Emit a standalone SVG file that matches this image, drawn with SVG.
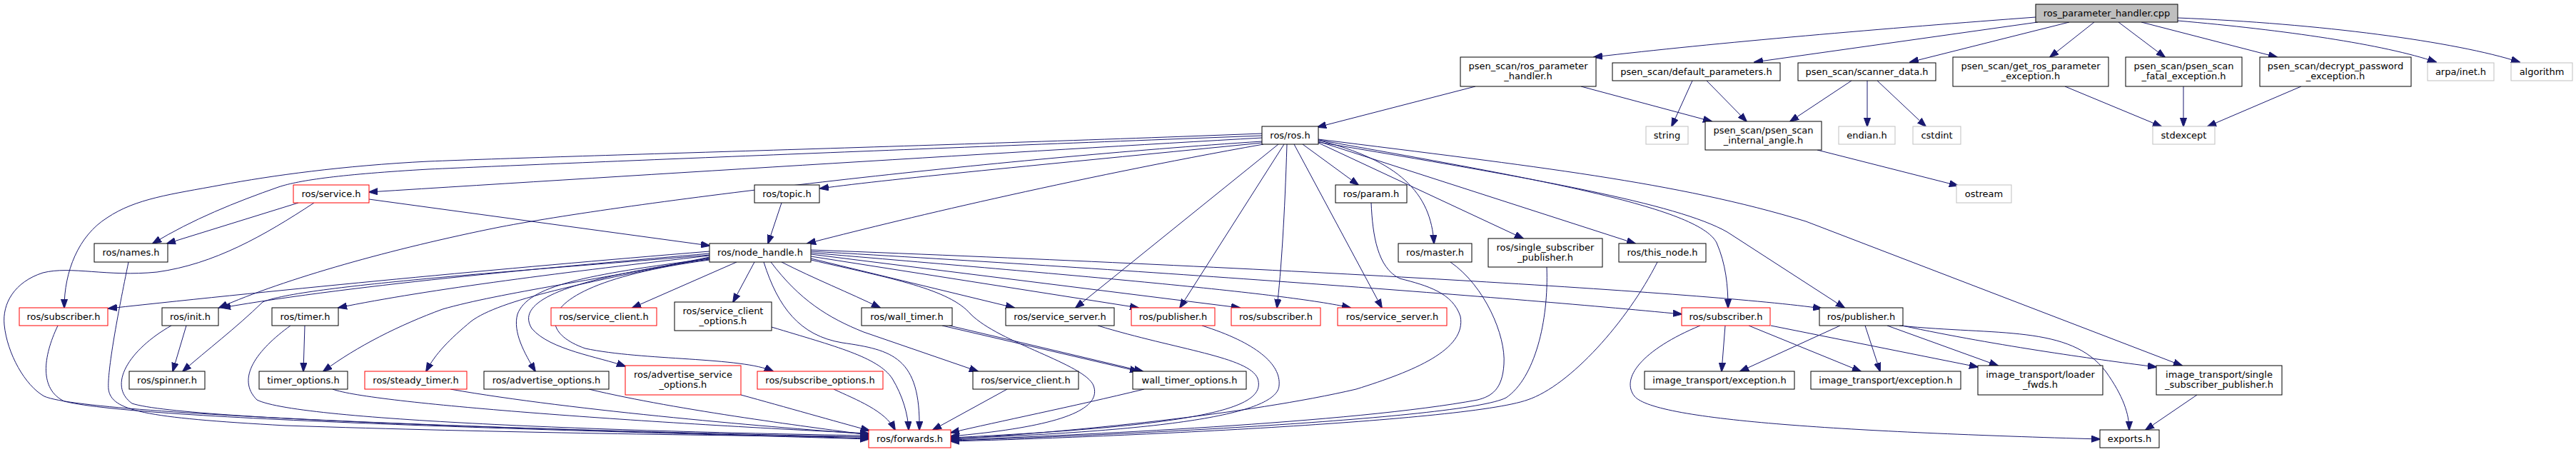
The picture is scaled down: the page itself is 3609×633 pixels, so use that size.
<svg xmlns="http://www.w3.org/2000/svg" width="3609" height="633" viewBox="0 0 3609 633">
<defs>
<marker id="a" markerWidth="13" markerHeight="10" refX="12" refY="5" orient="auto" markerUnits="userSpaceOnUse"><path d="M0,0.4 L13,5 L0,9.6 z" fill="#191970" stroke="#191970" stroke-width="1"/></marker>
<style>
rect{fill:#fff;stroke:#000;stroke-width:1}
.r rect{stroke:#ff0000}
.g rect{stroke:#bfbfbf}
.root rect{fill:#bfbfbf;stroke:#000}
text{font-family:"DejaVu Sans","Liberation Sans",sans-serif;font-size:13px;text-anchor:middle;fill:#000}
#edges path{fill:none;stroke:#191970;stroke-width:1;marker-end:url(#a)}
</style>
</defs>
<rect x="0" y="0" width="3609" height="633" style="fill:#fff;stroke:none"/>
<g id="edges">
<path d="M2852,24 C2650,39 2400,60 2233,80"/>
<path d="M2855,31 L2458,87"/>
<path d="M2899,31 L2676,87"/>
<path d="M2934,31 L2872,80"/>
<path d="M2968,31 L3033,80"/>
<path d="M3000,31 L3190,80"/>
<path d="M3051,29 C3200,42 3340,62 3413,87"/>
<path d="M3051,25 C3250,33 3440,58 3530,87"/>
<path d="M2067,121 L1846,178"/>
<path d="M2215,121 L2398,170"/>
<path d="M2371,113 L2342,177"/>
<path d="M2391,113 L2447,170"/>
<path d="M2594,113 L2508,170"/>
<path d="M2616,113 L2616,177"/>
<path d="M2630,113 L2698,177"/>
<path d="M2893,121 L3028,177"/>
<path d="M3059,121 L3059,177"/>
<path d="M3224,121 L3093,177"/>
<path d="M2546,210 L2743,260"/>
<path d="M1768,193 C1450,211 900,245 517,269"/>
<path d="M1768,200 C1500,227 1250,250 1149,264"/>
<path d="M1768,190 C1300,208 800,228 600,237 C480,244 420,252 390,262 C330,283 270,307 214,341"/>
<path d="M1768,187 C1300,205 800,218 600,226 C480,232 380,246 310,259 C240,272 190,278 150,305 C110,330 90,380 90,431"/>
<path d="M1768,198 C1400,222 900,280 700,318 C550,348 400,390 307,431"/>
<path d="M1770,202 C1500,250 1250,310 1131,341"/>
<path d="M1825,202 L1903,259"/>
<path d="M1846,196 C1960,225 2005,270 2009,341"/>
<path d="M1847,200 L2134,334"/>
<path d="M1847,198 L2291,341"/>
<path d="M1847,196 C2150,250 2380,290 2405,340 C2418,370 2421,400 2421,431"/>
<path d="M1847,199 C2150,250 2350,285 2420,325 L2584,431"/>
<path d="M1847,195 C2150,233 2350,255 2530,310 L3057,512"/>
<path d="M1791,202 L1507,431"/>
<path d="M1799,202 L1653,431"/>
<path d="M1803,202 C1800,300 1795,380 1789,431"/>
<path d="M1813,202 L1936,431"/>
<path d="M418,284 L234,341"/>
<path d="M517,279 L994,344"/>
<path d="M440,284 C370,330 300,370 220,381 C150,388 100,372 60,382 C20,395 3,425 6,455 C10,495 35,540 62,555 C130,585 900,605 1217,614"/>
<path d="M180,367 C165,440 150,520 152,545 C156,575 200,585 400,596 C700,606 1000,610 1217,612"/>
<path d="M81,456 C60,500 55,545 90,562 C200,590 900,605 1217,615"/>
<path d="M240,456 C180,490 150,540 185,565 C260,590 900,605 1217,612"/>
<path d="M261,456 L242,520"/>
<path d="M407,456 C360,490 330,530 360,560 C420,590 900,605 1217,610"/>
<path d="M427,456 L425,520"/>
<path d="M466,545 C520,565 900,592 1217,607"/>
<path d="M631,545 C800,575 1100,600 1217,608"/>
<path d="M825,545 C950,575 1150,600 1217,609"/>
<path d="M1038,553 C1100,570 1170,590 1218,603"/>
<path d="M1168,545 C1200,560 1240,575 1254,602"/>
<path d="M1081,458 C1170,485 1230,500 1250,530 C1265,555 1272,580 1273,602"/>
<path d="M1070,367 C1090,430 1120,470 1180,480 C1250,490 1290,500 1288,602"/>
<path d="M1411,545 L1307,602"/>
<path d="M1603,545 C1500,570 1400,590 1332,606"/>
<path d="M1136,364 C1250,390 1330,405 1360,440 C1400,480 1520,510 1532,540 C1545,575 1480,598 1332,611"/>
<path d="M1538,456 C1650,490 1750,500 1762,530 C1775,570 1700,595 1332,613"/>
<path d="M1684,456 C1760,480 1795,510 1792,540 C1790,578 1650,603 1332,614"/>
<path d="M1921,284 C1923,330 1930,375 1961,390 C2000,400 2035,410 2046,443 C2055,490 1980,520 1900,545 C1750,580 1500,605 1332,615"/>
<path d="M2032,367 C2080,400 2110,470 2107,510 C2105,545 2090,555 2070,560 C1900,592 1500,610 1332,616"/>
<path d="M2167,374 C2170,450 2150,530 2110,557 C2050,588 1500,612 1332,617"/>
<path d="M2322,367 C2280,450 2200,540 2140,560 C2050,592 1500,614 1332,618"/>
<path d="M1095,284 L1076,341"/>
<path d="M994,352 C700,376 400,405 152,432"/>
<path d="M994,355 C800,372 500,398 311,431"/>
<path d="M994,357 C750,378 420,400 368,423 C330,460 290,490 256,520"/>
<path d="M994,358 C800,380 600,405 474,431"/>
<path d="M994,360 C850,390 700,410 620,433 C560,455 500,485 453,520"/>
<path d="M994,361 C820,395 700,420 660,450 C630,475 610,495 597,520"/>
<path d="M994,362 C820,385 740,400 725,440 C718,465 735,495 750,520"/>
<path d="M994,363 C800,390 720,420 745,460 C770,490 840,500 876,513"/>
<path d="M994,364 C760,395 740,460 820,488 C900,505 1040,500 1083,520"/>
<path d="M1032,367 L886,431"/>
<path d="M1057,367 L1027,423"/>
<path d="M1080,367 C1120,420 1160,445 1210,465 L1370,520"/>
<path d="M1095,367 C1140,390 1190,410 1233,431"/>
<path d="M1330,456 L1601,520"/>
<path d="M1320,456 L1595,520"/>
<path d="M1136,362 L1421,431"/>
<path d="M1136,359 L1595,431"/>
<path d="M1136,356 L1737,431"/>
<path d="M1136,354 C1500,385 1800,410 1892,431"/>
<path d="M1136,352 C1600,378 2100,415 2356,440"/>
<path d="M1136,350 C1800,375 2400,410 2552,432"/>
<path d="M2578,456 L2438,520"/>
<path d="M2613,456 L2634,520"/>
<path d="M2644,456 L2799,512"/>
<path d="M2661,456 C2800,470 2900,455 2950,520 C2975,555 2983,580 2983,602"/>
<path d="M2665,456 C2800,485 2950,505 3021,514"/>
<path d="M2417,456 L2412,520"/>
<path d="M2450,456 L2607,520"/>
<path d="M2481,456 L2771,514"/>
<path d="M2382,456 C2300,490 2270,530 2290,555 C2320,590 2600,605 2942,615"/>
<path d="M3078,553 L3006,602"/>
</g>
<g id="n_root" class="root"><rect x="2852" y="6" width="199" height="25"/><text x="2951.5" y="22.5">ros_parameter_handler.cpp</text></g>
<g id="n_prh"><rect x="2046" y="80" width="190" height="41"/><text x="2141" y="97">psen_scan/ros_parameter</text><text x="2141" y="111">_handler.h</text></g>
<g id="n_dp"><rect x="2259" y="88" width="235" height="25"/><text x="2376.5" y="104.5">psen_scan/default_parameters.h</text></g>
<g id="n_sd"><rect x="2519" y="88" width="193" height="25"/><text x="2615.5" y="104.5">psen_scan/scanner_data.h</text></g>
<g id="n_grpe"><rect x="2736" y="80" width="218" height="41"/><text x="2845" y="97">psen_scan/get_ros_parameter</text><text x="2845" y="111">_exception.h</text></g>
<g id="n_psfe"><rect x="2978" y="80" width="163" height="41"/><text x="3059.5" y="97">psen_scan/psen_scan</text><text x="3059.5" y="111">_fatal_exception.h</text></g>
<g id="n_dpe"><rect x="3166" y="80" width="212" height="41"/><text x="3272" y="97">psen_scan/decrypt_password</text><text x="3272" y="111">_exception.h</text></g>
<g id="n_arpa" class="g"><rect x="3401" y="88" width="93" height="25"/><text x="3447.5" y="104.5">arpa/inet.h</text></g>
<g id="n_alg" class="g"><rect x="3518" y="88" width="86" height="25"/><text x="3561" y="104.5">algorithm</text></g>
<g id="n_stdexc" class="g"><rect x="3016" y="177" width="87" height="25"/><text x="3059.5" y="193.5">stdexcept</text></g>
<g id="n_psia"><rect x="2389" y="170" width="163" height="40"/><text x="2470.5" y="187">psen_scan/psen_scan</text><text x="2470.5" y="201">_internal_angle.h</text></g>
<g id="n_endian" class="g"><rect x="2576" y="177" width="79" height="25"/><text x="2615.5" y="193.5">endian.h</text></g>
<g id="n_cstdint" class="g"><rect x="2680" y="177" width="67" height="25"/><text x="2713.5" y="193.5">cstdint</text></g>
<g id="n_ostream" class="g"><rect x="2741" y="259" width="77" height="25"/><text x="2779.5" y="275.5">ostream</text></g>
<g id="n_string" class="g"><rect x="2306" y="177" width="59" height="25"/><text x="2335.5" y="193.5">string</text></g>
<g id="n_ros"><rect x="1768" y="177" width="79" height="25"/><text x="1807.5" y="193.5">ros/ros.h</text></g>
<g id="n_param"><rect x="1871" y="259" width="100" height="25"/><text x="1921" y="275.5">ros/param.h</text></g>
<g id="n_service" class="r"><rect x="411" y="259" width="106" height="25"/><text x="464" y="275.5">ros/service.h</text></g>
<g id="n_topic"><rect x="1057" y="259" width="91" height="25"/><text x="1102.5" y="275.5">ros/topic.h</text></g>
<g id="n_names"><rect x="132" y="341" width="103" height="26"/><text x="183.5" y="358">ros/names.h</text></g>
<g id="n_nh"><rect x="994" y="341" width="142" height="26"/><text x="1065" y="358">ros/node_handle.h</text></g>
<g id="n_master"><rect x="1959" y="341" width="103" height="26"/><text x="2010.5" y="358">ros/master.h</text></g>
<g id="n_ssp"><rect x="2085" y="334" width="160" height="40"/><text x="2165" y="351">ros/single_subscriber</text><text x="2165" y="365">_publisher.h</text></g>
<g id="n_thisnode"><rect x="2268" y="341" width="122" height="26"/><text x="2329" y="358">ros/this_node.h</text></g>
<g id="n_subl" class="r"><rect x="27" y="431" width="124" height="25"/><text x="89" y="447.5">ros/subscriber.h</text></g>
<g id="n_init"><rect x="227" y="431" width="79" height="25"/><text x="266.5" y="447.5">ros/init.h</text></g>
<g id="n_timer"><rect x="381" y="431" width="93" height="25"/><text x="427.5" y="447.5">ros/timer.h</text></g>
<g id="n_sclr" class="r"><rect x="772" y="431" width="148" height="25"/><text x="846" y="447.5">ros/service_client.h</text></g>
<g id="n_sco"><rect x="945" y="423" width="136" height="40"/><text x="1013" y="440">ros/service_client</text><text x="1013" y="454">_options.h</text></g>
<g id="n_wt"><rect x="1207" y="431" width="127" height="25"/><text x="1270.5" y="447.5">ros/wall_timer.h</text></g>
<g id="n_ssb"><rect x="1409" y="431" width="152" height="25"/><text x="1485" y="447.5">ros/service_server.h</text></g>
<g id="n_pubr" class="r"><rect x="1585" y="431" width="117" height="25"/><text x="1643.5" y="447.5">ros/publisher.h</text></g>
<g id="n_subm" class="r"><rect x="1725" y="431" width="125" height="25"/><text x="1787.5" y="447.5">ros/subscriber.h</text></g>
<g id="n_ssr" class="r"><rect x="1874" y="431" width="153" height="25"/><text x="1950.5" y="447.5">ros/service_server.h</text></g>
<g id="n_subr" class="r"><rect x="2356" y="431" width="124" height="25"/><text x="2418" y="447.5">ros/subscriber.h</text></g>
<g id="n_pubb"><rect x="2549" y="431" width="117" height="25"/><text x="2607.5" y="447.5">ros/publisher.h</text></g>
<g id="n_spin"><rect x="181" y="520" width="106" height="25"/><text x="234" y="536.5">ros/spinner.h</text></g>
<g id="n_to"><rect x="363" y="520" width="124" height="25"/><text x="425" y="536.5">timer_options.h</text></g>
<g id="n_st" class="r"><rect x="511" y="520" width="143" height="25"/><text x="582.5" y="536.5">ros/steady_timer.h</text></g>
<g id="n_ao"><rect x="678" y="520" width="175" height="25"/><text x="765.5" y="536.5">ros/advertise_options.h</text></g>
<g id="n_aso" class="r"><rect x="876" y="512" width="162" height="41"/><text x="957" y="529">ros/advertise_service</text><text x="957" y="543">_options.h</text></g>
<g id="n_so" class="r"><rect x="1061" y="520" width="176" height="25"/><text x="1149" y="536.5">ros/subscribe_options.h</text></g>
<g id="n_scb"><rect x="1363" y="520" width="148" height="25"/><text x="1437" y="536.5">ros/service_client.h</text></g>
<g id="n_wto"><rect x="1587" y="520" width="159" height="25"/><text x="1666.5" y="536.5">wall_timer_options.h</text></g>
<g id="n_ite1"><rect x="2304" y="520" width="210" height="25"/><text x="2409" y="536.5">image_transport/exception.h</text></g>
<g id="n_ite2"><rect x="2537" y="520" width="210" height="25"/><text x="2642" y="536.5">image_transport/exception.h</text></g>
<g id="n_itlf"><rect x="2771" y="512" width="175" height="41"/><text x="2858.5" y="529">image_transport/loader</text><text x="2858.5" y="543">_fwds.h</text></g>
<g id="n_itssp"><rect x="3021" y="512" width="176" height="41"/><text x="3109" y="529">image_transport/single</text><text x="3109" y="543">_subscriber_publisher.h</text></g>
<g id="n_fwd" class="r"><rect x="1217" y="602" width="115" height="25"/><text x="1274.5" y="618.5">ros/forwards.h</text></g>
<g id="n_exp"><rect x="2942" y="602" width="83" height="25"/><text x="2983.5" y="618.5">exports.h</text></g>
</svg>
